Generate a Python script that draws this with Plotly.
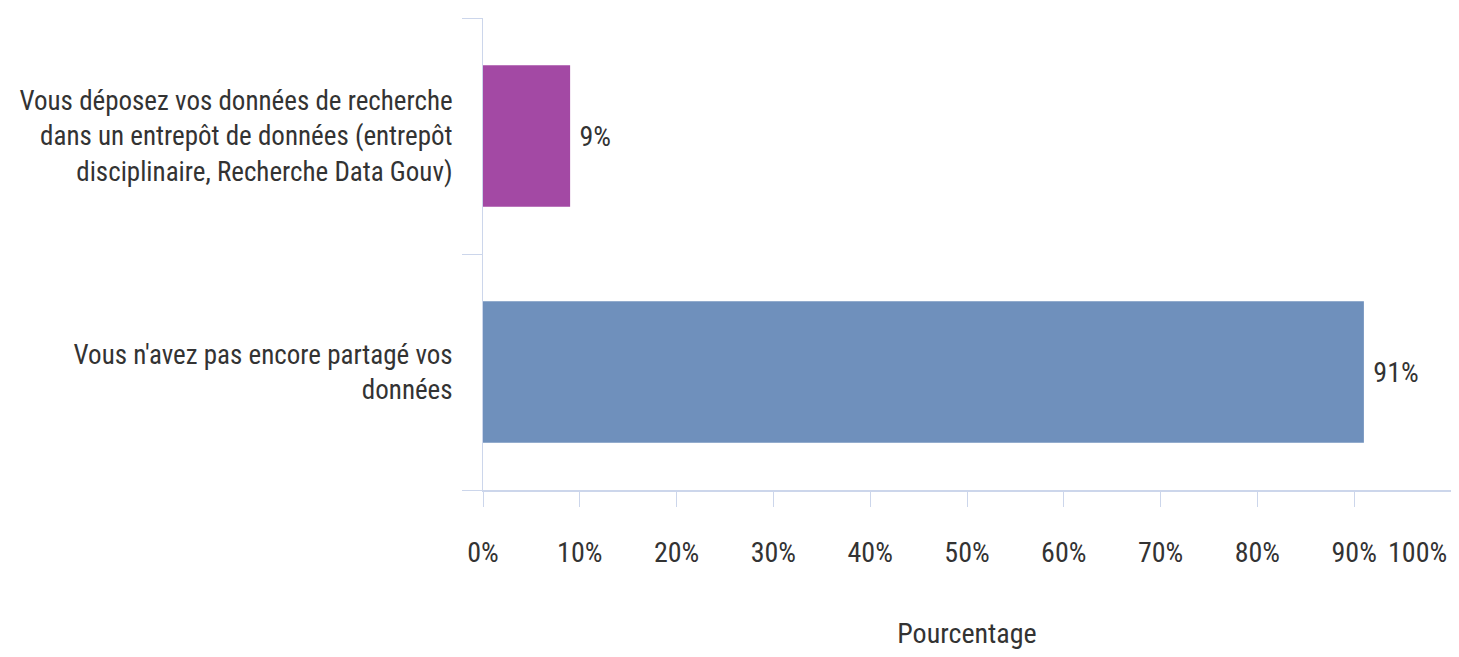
import plotly.graph_objects as go

categories = [
    "Vous déposez vos données de recherche<br>dans un entrepôt de données (entrepôt<br>disciplinaire, Recherche Data Gouv)",
    "Vous n'avez pas encore partagé vos<br>données",
]
values = [9, 91]
colors = ["#A349A4", "#6F90BC"]
xticks = list(range(0, 101, 10))
xticklabels = [f"{v}%" for v in xticks]

font = "Liberation Sans Narrow, Arial Narrow, Roboto Condensed, sans-serif"

fig = go.Figure()
fig.add_trace(go.Bar(
    x=values,
    y=categories,
    orientation="h",
    marker_color=colors,
    marker_line_width=0,
    text=[f"{v}%" for v in values],
    textposition="outside",
    texttemplate=" %{text}",
    textfont=dict(size=28, color="#333333", family=font),
    cliponaxis=False,
    width=0.6,
))

# the last tick label is right-aligned on its tick so it stays inside the page
fig.add_annotation(
    x=xticks[-1], xref="x", xanchor="right", xshift=-2,
    y=0, yref="paper", yanchor="middle", yshift=-62,
    text=xticklabels[-1], showarrow=False,
    font=dict(size=28, color="#333333", family=font),
)

# page body has an 8px margin, so the figure is shrunk by that much
fig.update_layout(
    width=1451,
    height=649,
    margin=dict(l=475, r=8, t=10, b=167),
    plot_bgcolor="white",
    paper_bgcolor="white",
    font=dict(family=font, size=27, color="#333333"),
    showlegend=False,
)
fig.update_xaxes(
    range=[0, 100],
    tickvals=xticks,
    ticktext=xticklabels[:-1] + [""],
    showgrid=False,
    zeroline=False,
    showline=True,
    linecolor="#CCD6EB",
    linewidth=2,
    ticks="outside",
    ticklen=15,
    tickcolor="#CCD6EB",
    ticklabelstandoff=21,
    tickfont=dict(size=28),
    automargin=False,
    title=dict(text="Pourcentage", standoff=56, font=dict(size=28)),
)
fig.update_yaxes(
    categoryorder="array",
    categoryarray=categories[::-1],
    showgrid=False,
    zeroline=False,
    showline=True,
    linecolor="#CCD6EB",
    linewidth=1,
    ticks="outside",
    tickson="boundaries",
    ticklen=20,
    tickcolor="#CCD6EB",
    ticklabelstandoff=24,
    automargin=False,
)

fig.write_html("out.html")
